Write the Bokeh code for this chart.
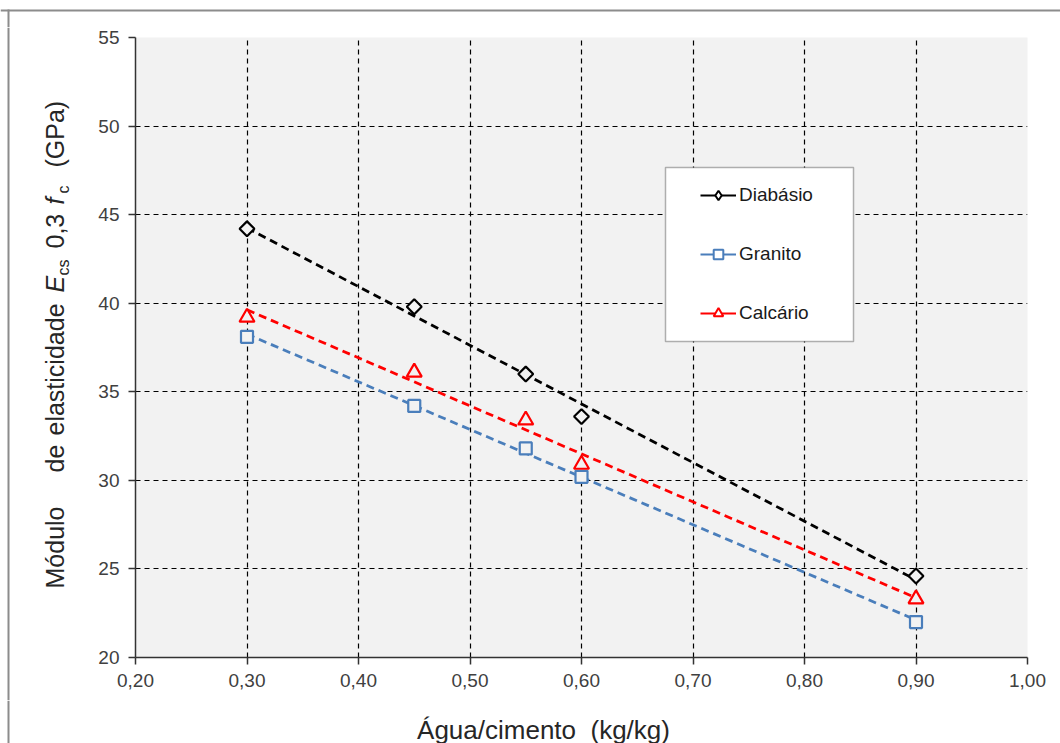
import numpy as np
from math import pi
from bokeh.plotting import figure
from bokeh.layouts import column, row
from bokeh.models import (Range1d, FixedTicker, Legend, LegendItem, BoxAnnotation, Span)
from bokeh.core.properties import value
from bokeh.embed import file_html
from bokeh.resources import INLINE

# ---------------- data ----------------
agua_cimento = [0.30, 0.45, 0.55, 0.60, 0.90]
diabasio = [44.2, 39.8, 36.0, 33.6, 24.6]
granito = [38.1, 34.2, 31.8, 30.2, 22.0]
calcario = [39.2, 36.1, 33.4, 30.9, 23.3]
series_names = ["Diabásio", "Granito", "Calcário"]
x_ticks = [0.2, 0.3, 0.4, 0.5, 0.6, 0.7, 0.8, 0.9, 1.0]
x_tick_labels = ["0,20", "0,30", "0,40", "0,50", "0,60", "0,70", "0,80", "0,90", "1,00"]
y_ticks = [20, 25, 30, 35, 40, 45, 50, 55]
x_title = "Água/cimento\u00a0 (kg/kg)"

# ---------------- layout (page pixels) ----------------
W, H = 1060, 743
TOP_H = 27            # strip above the main figure
BOT_H = 43            # strip below the main figure
LEFT_W = 80           # strip left of the main figure
MID_H = H - TOP_H - BOT_H
FL, FR, FT, FB = 135, 1027, 37, 657   # plot frame on the page
X0, X1, Y0, Y1 = 0.2, 1.0, 20, 55
FONT = "Liberation Sans"
BORDER = "#8c8c8c"


def blank(width, height):
    """A figure whose frame is the whole canvas; data units are pixels."""
    f = figure(width=width, height=height, output_backend="svg", toolbar_location=None,
               x_range=Range1d(0, width), y_range=Range1d(0, height),
               x_axis_location=None, y_axis_location=None, frame_align=False,
               min_border=0, min_border_left=0, min_border_right=0,
               min_border_top=0, min_border_bottom=0)
    f.grid.visible = False
    f.outline_line_color = None
    f.background_fill_color = "white"
    f.border_fill_color = "white"
    return f


def yy(top_px, height, page_y):
    return top_px + height - page_y


# ---------------- main chart ----------------
p = figure(width=W - LEFT_W, height=MID_H, output_backend="svg", toolbar_location=None,
           x_range=Range1d(X0, X1), y_range=Range1d(Y0, Y1), frame_align=False,
           min_border_left=FL - LEFT_W, min_border_right=W - FR,
           min_border_top=FT - TOP_H, min_border_bottom=TOP_H + MID_H - FB)
p.background_fill_color = "#f2f2f2"
p.border_fill_color = "white"
p.outline_line_color = None

for ax in (p.xaxis[0], p.yaxis[0]):
    ax.axis_line_color = "#333333"
    ax.axis_line_width = 1.5
    ax.major_tick_line_color = "#333333"
    ax.major_tick_line_width = 1.5
    ax.major_tick_in = 0
    ax.major_tick_out = 7
    ax.minor_tick_line_color = None
    ax.major_label_text_font = FONT
    ax.major_label_text_font_size = "19px"
    ax.major_label_text_color = "#404040"
    ax.major_label_standoff = 9

p.xaxis[0].ticker = FixedTicker(ticks=x_ticks)
p.xaxis[0].major_label_overrides = {t: l for t, l in zip(x_ticks, x_tick_labels)}
p.yaxis[0].ticker = FixedTicker(ticks=y_ticks)

for g in (p.xgrid[0], p.ygrid[0]):
    g.grid_line_color = "black"
    g.grid_line_dash = "5 4"
    g.grid_line_width = 1.2

colors = ["black", "#4a7ebb", "red"]
markers = ["square", "square", "triangle"]
legend_markers = ["diamond", "square", "triangle"]
angles = [pi / 4, 0, 0]
sizes = [10.5, 12, 15]
values = [diabasio, granito, calcario]

items = []
xs = np.array(agua_cimento)
nan = float("nan")
for name, vals, c, m, lm, a, s in zip(series_names, values, colors, markers,
                                       legend_markers, angles, sizes):
    coef = np.polyfit(xs, np.array(vals), 1)
    xt = np.array([xs.min(), xs.max()])
    p.line(xt, np.polyval(coef, xt), line_color=c, line_width=2.75, line_dash="8 5")
    p.scatter(agua_cimento, vals, marker=m, angle=a, size=s, line_color=c,
              line_width=2.2, fill_color="#f2f2f2")
    # legend proxies (drawn only inside the legend)
    leg_line = p.line(x=[nan], y=[nan], line_color=c, line_width=2)
    leg_mark = p.scatter(x=[nan], y=[nan], marker=lm, line_color=c, line_width=2,
                         fill_color="white")
    items.append(LegendItem(label=name, renderers=[leg_line, leg_mark]))


def px2x(px):
    return X0 + (px - FL) / (FR - FL) * (X1 - X0)


def px2y(py):
    return Y1 - (py - FT) / (FB - FT) * (Y1 - Y0)


# legend box (page px 665..853 x 167..341)
p.add_layout(BoxAnnotation(left=px2x(665), right=px2x(853), top=px2y(167), bottom=px2y(341),
                           fill_color="white", fill_alpha=1, line_color="black", line_width=1.5))

legend = Legend(items=items, location=(555, 322), padding=10, spacing=35,
                glyph_width=36, glyph_height=24, label_height=24, label_standoff=3,
                label_text_font=FONT, label_text_font_size="19px", label_text_color="#1a1a1a",
                background_fill_alpha=0, border_line_alpha=0)
p.add_layout(legend)

# ---------------- top strip (outer border) ----------------
top = blank(W, TOP_H)
top.add_layout(Span(location=yy(0, TOP_H, 10), dimension="width", line_color=BORDER, line_width=2))
top.segment(x0=[8], y0=[yy(0, TOP_H, 9)], x1=[8], y1=[-2], line_color=BORDER, line_width=2)

# ---------------- left strip: y axis title ----------------
left = blank(LEFT_W, MID_H)
left.add_layout(Span(location=8, dimension="height", line_color=BORDER, line_width=2))
mid_x = 54      # centre line of the main text
sub_x = 63      # centre line of the subscripts
normal_pieces = [("Módulo", 588), ("de", 472), ("elasticidade", 435), ("0,3", 248), ("(GPa)", 167)]
italic_pieces = [("E", 292), ("f", 204)]
sub_pieces = [("cs", 275), ("c", 193)]
TXT = "#262626"


def ly(py):
    return yy(TOP_H, MID_H, py)


left.text(x=[mid_x] * len(normal_pieces), y=[ly(py) for _, py in normal_pieces],
          text=[t for t, _ in normal_pieces], angle=pi / 2, text_align="left",
          text_baseline="middle", text_font=value(FONT), text_font_size="25px",
          text_color=TXT)
left.text(x=[mid_x] * len(italic_pieces), y=[ly(py) for _, py in italic_pieces],
          text=[t for t, _ in italic_pieces], angle=pi / 2, text_align="left",
          text_baseline="middle", text_font=value(FONT), text_font_size="25px",
          text_font_style="italic", text_color=TXT)
left.text(x=[sub_x] * len(sub_pieces), y=[ly(py) for _, py in sub_pieces],
          text=[t for t, _ in sub_pieces], angle=pi / 2, text_align="left",
          text_baseline="middle", text_font=value(FONT), text_font_size="16px",
          text_color=TXT)

# ---------------- bottom strip: x axis title ----------------
bot = blank(W, BOT_H)
bot.add_layout(Span(location=8, dimension="height", line_color=BORDER, line_width=2))
bot.text(x=[543], y=[yy(TOP_H + MID_H, BOT_H, 729)], text=[x_title], text_align="center",
         text_baseline="middle", text_font=value(FONT), text_font_size="26px",
         text_color=TXT)

layout = column(top, row(left, p, spacing=0), bot, spacing=0)
open("out.html", "w").write(file_html(layout, INLINE))
